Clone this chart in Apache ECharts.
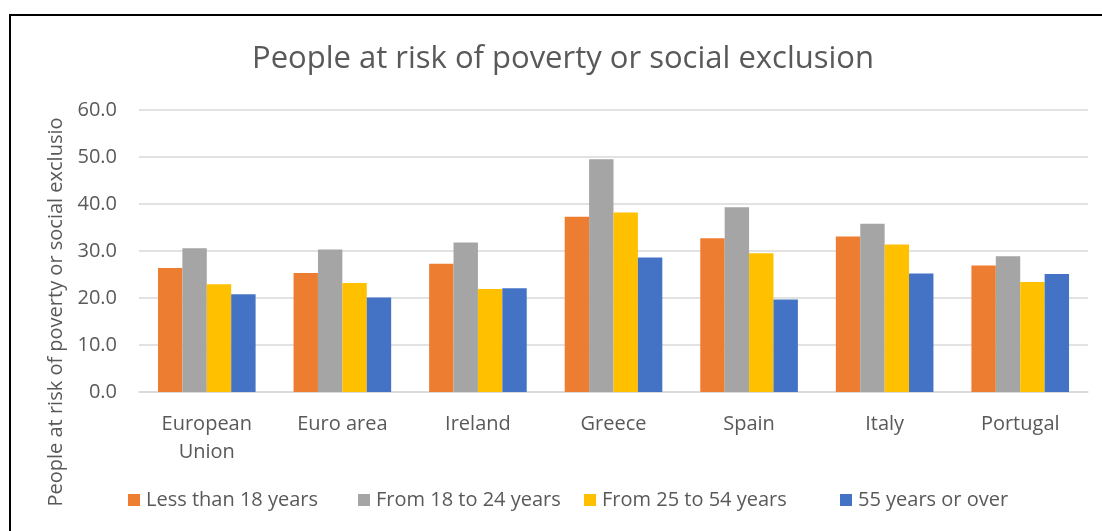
<!DOCTYPE html>
<html>
<head>
<meta charset="utf-8">
<script src="https://cdn.jsdelivr.net/npm/echarts@6/dist/echarts.min.js"></script>
<style>
  html, body { margin: 0; padding: 0; background: #fff; }
  #chart { width: 1102px; height: 531px; }
</style>
</head>
<body>
<div id="chart"></div>
<script>
// categories and series values
const countries = ["European\nUnion", "Euro area", "Ireland", "Greece", "Spain", "Italy", "Portugal"];
const seriesNames = ["Less than 18 years", "From 18 to 24 years", "From 25 to 54 years", "55 years or over"];
const under18 = [26.4, 25.3, 27.3, 37.3, 32.7, 33.1, 26.9];
const from18to24 = [30.6, 30.3, 31.8, 49.5, 39.3, 35.8, 28.9];
const from25to54 = [22.9, 23.2, 21.9, 38.2, 29.5, 31.4, 23.4];
const over55 = [20.8, 20.1, 22.1, 28.6, 19.7, 25.2, 25.1];

const font = "Open Sans";
const textColor = "#595959";
const legendLeft = [128, 358, 584, 840];

const chart = echarts.init(document.getElementById("chart"));

function bar(name, data, color) {
  return {
    name: name,
    type: "bar",
    data: data,
    itemStyle: { color: color },
    barGap: "0%",
    barCategoryGap: "28%",
  };
}

// one legend per entry so each can sit where the original put it
const legends = seriesNames.map((n, i) => ({
  data: [n],
  left: legendLeft[i],
  bottom: 21,
  padding: 0,
  itemWidth: 12,
  itemHeight: 12,
  icon: "rect",
  textStyle: { fontFamily: font, fontSize: 20, color: textColor, padding: [0, 0, 0, 1] },
}));

chart.setOption({
  animation: false,
  textStyle: { fontFamily: font },
  // outer chart frame
  graphic: [
    {
      type: "rect",
      shape: { x: 10, y: 15, width: 1110, height: 540 },
      style: { fill: null, stroke: "#000", lineWidth: 2 },
    },
  ],
  title: {
    text: "People at risk of poverty or social exclusion",
    left: 247,
    top: 39,
    textStyle: { fontFamily: font, fontSize: 31, fontWeight: "normal", color: textColor },
  },
  legend: legends,
  grid: {
    left: 139,
    right: 14,
    top: 110,
    bottom: 139,
  },
  xAxis: {
    type: "category",
    data: countries,
    axisLine: { lineStyle: { color: "#d9d9d9", width: 1.5 } },
    axisTick: { show: false },
    axisLabel: { fontFamily: font, fontSize: 20, color: textColor, margin: 18, lineHeight: 28 },
  },
  yAxis: {
    type: "value",
    min: 0,
    max: 60,
    interval: 10,
    name: "People at risk of poverty or social exclusio",
    nameLocation: "middle",
    nameGap: 67,
    nameTextStyle: { fontFamily: font, fontSize: 20, color: textColor, padding: [0, 0, 0, -122] },
    axisLabel: {
      fontFamily: font,
      fontSize: 20,
      color: textColor,
      margin: 22,
      formatter: (v) => v.toFixed(1),
    },
    splitLine: { lineStyle: { color: "#d9d9d9", width: 1.5 } },
  },
  series: [
    bar(seriesNames[0], under18, "#ed7d31"),
    bar(seriesNames[1], from18to24, "#a5a5a5"),
    bar(seriesNames[2], from25to54, "#ffc000"),
    bar(seriesNames[3], over55, "#4472c4"),
  ],
});
</script>
</body>
</html>
